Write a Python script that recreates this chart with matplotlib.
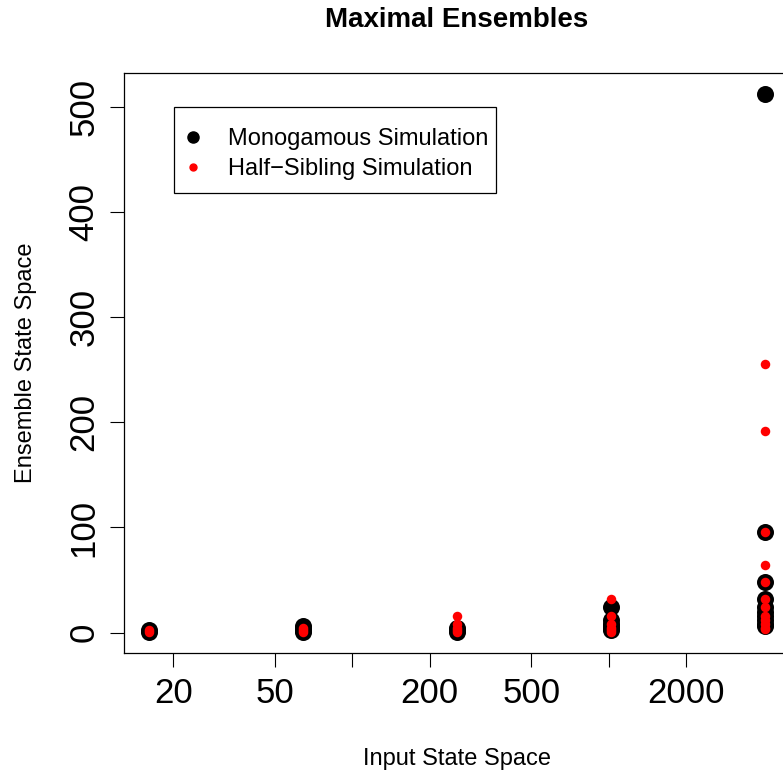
"""Maximal ensembles: ensemble state space vs input state space (log x)."""

import matplotlib
matplotlib.use("Agg")
import matplotlib.pyplot as plt
from matplotlib.lines import Line2D
from matplotlib.patches import Rectangle
import numpy as np

plt.rcParams["font.family"] = ["Liberation Sans", "DejaVu Sans"]

# ------------------------------------------------------------------- data
# input state space (x) and maximal ensemble state space (y), one point each
mono_x = [16, 16,
          64, 64, 64, 64,
          256, 256, 256,
          1024, 1024, 1024, 1024, 1024, 1024,
          4096, 4096, 4096, 4096, 4096, 4096, 4096, 4096, 4096, 4096]
mono_y = [1, 2,
          1, 2, 4, 6,
          1, 2, 4,
          2, 4, 6, 8, 12, 24,
          512, 96, 48, 32, 24, 20, 16, 12, 8, 6]

half_x = [16, 16,
          64, 64, 64,
          256, 256, 256, 256, 256,
          1024, 1024, 1024, 1024, 1024, 1024,
          4096, 4096, 4096, 4096, 4096, 4096, 4096, 4096, 4096, 4096, 4096, 4096]
half_y = [1, 2,
          1, 2, 4,
          1, 2, 4, 8, 16,
          1, 2, 4, 8, 16, 32,
          256, 192, 96, 64, 48, 32, 24, 16, 12, 8, 4, 3]

x_ticks = [20, 50, 100, 200, 500, 1000, 2000]
x_tick_labels = ["20", "50", "", "200", "500", "", "2000"]
y_ticks = [0, 100, 200, 300, 400, 500]
legend_labels = ["Monogamous Simulation", "Half\u2212Sibling Simulation"]

W, H = 783, 772
BOX = (124, 73, 790, 653)  # plot box in pixels: left, top, right, bottom


# ------------------------------------------------------------------- plot
fig = plt.figure(figsize=(W / 100, H / 100), dpi=100)
# the right edge of the box runs a little past the figure, as in the original
bw, bh = BOX[2] - BOX[0], BOX[3] - BOX[1]
ax = fig.add_axes([BOX[0] / W, (H - BOX[3]) / H, bw / W, bh / H])

ax.scatter(mono_x, mono_y, s=150, color="black", linewidths=0, zorder=2)
ax.scatter(half_x, half_y, s=47, color="red", linewidths=0, zorder=3)

ax.set_xscale("log")
# R style 4% padding on each side
all_x = np.log10(mono_x + half_x)
lo, hi = all_x.min(), all_x.max()
pad = 0.04 * (hi - lo)
ax.set_xlim(10 ** (lo - pad), 10 ** (hi + pad))
all_y = np.array(mono_y + half_y)
pad = 0.04 * (all_y.max() - all_y.min())
ax.set_ylim(all_y.min() - pad, all_y.max() + pad)

ax.xaxis.set_major_locator(matplotlib.ticker.FixedLocator(x_ticks))
ax.xaxis.set_minor_locator(matplotlib.ticker.NullLocator())
ax.set_xticklabels(x_tick_labels)
ax.set_yticks(y_ticks)
ax.set_yticklabels([str(v) for v in y_ticks], rotation=90, va="center")

ax.tick_params(axis="both", direction="out", length=10, width=0.8,
               labelsize=25, color="black")
ax.tick_params(axis="x", pad=7)
ax.tick_params(axis="y", pad=7)
for sp in ax.spines.values():
    sp.set_linewidth(0.9)

ax.set_xlabel("Input State Space", fontsize=17, labelpad=28)
ax.set_ylabel("Ensemble State Space", fontsize=17, labelpad=22)
ax.set_title("Maximal Ensembles", fontsize=20, fontweight="bold", pad=33)

# legend: R style box drawn by hand, entries placed inside it
lx0, ly0, lx1, ly1 = 174, 107, 496, 193
ax.add_patch(Rectangle(((lx0 - BOX[0]) / bw, (BOX[3] - ly1) / bh),
                       (lx1 - lx0) / bw, (ly1 - ly0) / bh,
                       transform=ax.transAxes, fill=False, edgecolor="black",
                       linewidth=0.9, zorder=4))
handles = [
    Line2D([], [], marker="o", linestyle="", color="black", markersize=8),
    Line2D([], [], marker="o", linestyle="", color="red", markersize=5),
]
leg = ax.legend(handles, legend_labels, loc="upper left",
                bbox_to_anchor=((lx0 + 12 - BOX[0]) / bw, (BOX[3] - ly0 - 21) / bh),
                fontsize=17, frameon=False, borderpad=0, labelspacing=0.36,
                handletextpad=1.2, handlelength=0.6, borderaxespad=0)

fig.savefig("out.png", dpi=100)
